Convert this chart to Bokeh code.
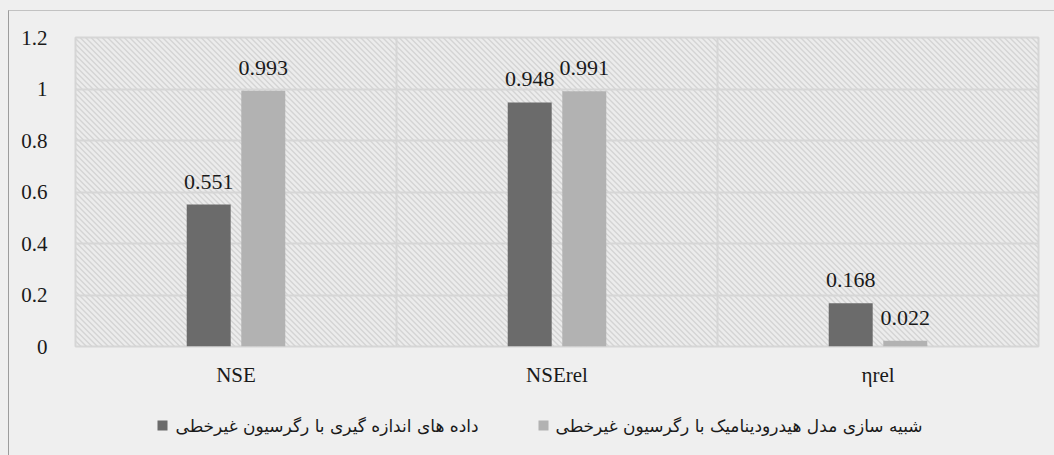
import numpy as np
from bokeh.plotting import figure
from bokeh.layouts import column
from bokeh.models import (ColumnDataSource, FactorRange, Range1d, FixedTicker, CustomJSTickFormatter,
                          LabelSet, Span)
from bokeh.transform import dodge
from bokeh.core.properties import value
from bokeh.embed import file_html
from bokeh.resources import INLINE

# ---- data ----
categories = ["NSE", "NSErel", "ηrel"]
measured = [0.551, 0.948, 0.168]
simulated = [0.993, 0.991, 0.022]
measured_labels = ["0.551", "0.948", "0.168"]
simulated_labels = ["0.993", "0.991", "0.022"]
series_names = ["داده های اندازه گیری با رگرسیون غیرخطی",
                "شبیه سازی مدل هیدرودینامیک با رگرسیون غیرخطی"]
series_colors = ["#6b6b6b", "#b2b2b2"]
y_ticks = [0, 0.2, 0.4, 0.6, 0.8, 1.0, 1.2]

# ---- layout constants ----
OFF_X, OFF_Y = 9, 11              # page offset of the chart box (margin + border)
FRAME_W, FRAME_H = 963, 309
LEFT, TOP, RIGHT, BOTTOM = 66, 26, 16, 44
TOTAL_W = LEFT + FRAME_W + RIGHT
MAIN_H = TOP + FRAME_H + BOTTOM
LEG_H = 455 - OFF_Y - MAIN_H
SERIF = "Liberation Serif"
BG = "#efefef"
GRID = "#d6d6d6"

src = ColumnDataSource(dict(cat=categories, m=measured, s=simulated,
                            ml=measured_labels, sl=simulated_labels))

fig = figure(x_range=FactorRange(*categories, range_padding=0), y_range=Range1d(0, 1.2),
             frame_width=FRAME_W, frame_height=FRAME_H, output_backend="svg",
             toolbar_location=None, min_border_left=LEFT, min_border_right=RIGHT,
             min_border_top=TOP, min_border_bottom=BOTTOM)
fig.border_fill_color = BG
fig.background_fill_color = "#ececec"
fig.outline_line_color = GRID
fig.outline_line_width = 2

# diagonal hatch texture of the plot area (decoration, drawn as thin lines)
n_cat = len(categories)
px_x = n_cat / FRAME_W
starts = np.arange(-FRAME_H, FRAME_W + 6, 5.5)
hsrc = ColumnDataSource(dict(x0=starts * px_x, y0=[1.2] * len(starts),
                             x1=(starts + FRAME_H) * px_x, y1=[0.0] * len(starts)))
fig.segment(x0="x0", y0="y0", x1="x1", y1="y1", source=hsrc, line_color="#d4d4d4",
            line_width=1.4, level="image")

r1 = fig.vbar(x=dodge("cat", -0.085, range=fig.x_range), top="m", width=0.137, source=src,
              fill_color=series_colors[0], line_color=None)
r2 = fig.vbar(x=dodge("cat", 0.085, range=fig.x_range), top="s", width=0.137, source=src,
              fill_color=series_colors[1], line_color=None)

for ycol, tcol, off in [("m", "ml", -0.085), ("s", "sl", 0.085)]:
    fig.add_layout(LabelSet(x=dodge("cat", off, range=fig.x_range), y=ycol, text=tcol,
                            source=src, text_align="center", text_baseline="alphabetic",
                            y_offset=16, text_font=value(SERIF), text_font_size="22px",
                            text_color="#1a1a1a"))

fig.xgrid.visible = False
for loc in range(1, n_cat):
    fig.add_layout(Span(location=loc, dimension="height", line_color=GRID, line_width=2,
                        level="underlay"))
fig.ygrid.ticker = FixedTicker(ticks=y_ticks)
fig.ygrid.grid_line_color = GRID
fig.ygrid.grid_line_width = 2

fig.yaxis.ticker = FixedTicker(ticks=y_ticks)
fig.yaxis.formatter = CustomJSTickFormatter(code="return String(Math.round(tick*10)/10);")
for ax in [fig.xaxis[0], fig.yaxis[0]]:
    ax.axis_line_color = None
    ax.major_tick_line_color = None
    ax.minor_tick_line_color = None
    ax.major_label_text_font = SERIF
    ax.major_label_text_font_size = "21px"
    ax.major_label_text_color = "#1a1a1a"
fig.yaxis.major_label_standoff = 22
fig.xaxis.major_label_standoff = 10

# ---- legend strip (page-pixel coordinates; column aligns its frame with the chart frame) ----
leg_top = OFF_Y + MAIN_H
leg = figure(x_range=Range1d(OFF_X + LEFT, OFF_X + LEFT + FRAME_W),
             y_range=Range1d(leg_top + LEG_H, leg_top),
             frame_width=FRAME_W, height=int(LEG_H), output_backend="svg", toolbar_location=None,
             x_axis_location=None, y_axis_location=None, min_border=0,
             min_border_left=LEFT, min_border_right=RIGHT)
leg.grid.visible = False
leg.outline_line_color = None
leg.background_fill_color = BG
leg.border_fill_color = BG
legend_square_x = [162, 543]
legend_text_x = [175, 555]
legend_y = [425, 425]
leg.scatter(x=legend_square_x, y=legend_y, marker="square", size=10, color=series_colors,
            line_color=None)
leg.text(x=legend_text_x, y=legend_y, text=series_names, text_font=value("DejaVu Sans"),
         text_font_size="17px", text_baseline="middle", text_align="left",
         text_color="#1a1a1a")

p = column(fig, leg, spacing=0,
           styles={"margin-left": "8px", "margin-top": "10px",
                   "border-top": "1.5px solid #c2c2c2", "border-left": "1.5px solid #9c9c9c",
                   "box-shadow": "0 0 0 14px #efefef", "background": BG})

open("out.html", "w").write(file_html(p, INLINE))
